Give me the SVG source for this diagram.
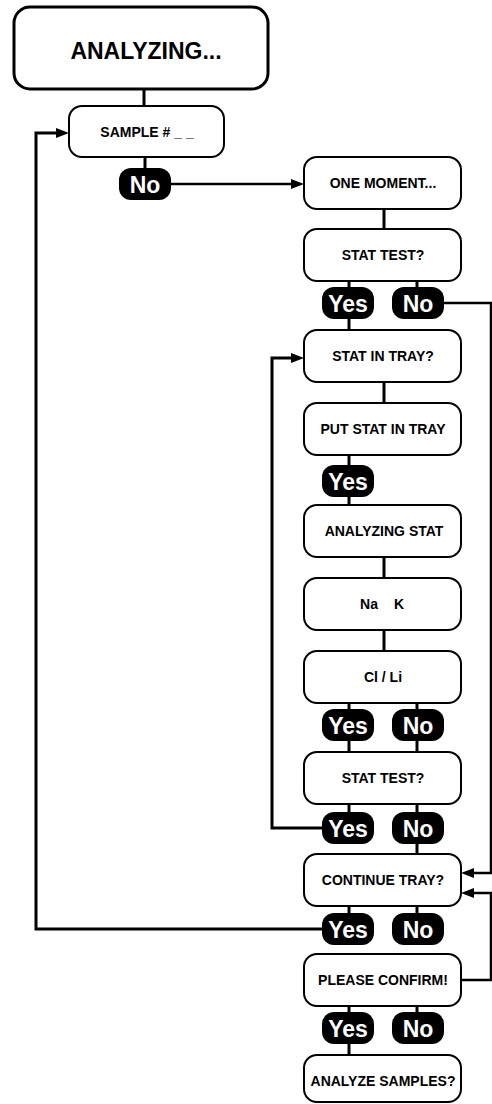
<svg xmlns="http://www.w3.org/2000/svg" width="492" height="1104" viewBox="0 0 492 1104">
<style>
.box{fill:#fff;stroke:#000;stroke-width:2}
.title{fill:#fff;stroke:#000;stroke-width:3}
.pill{fill:#000}
.t{font-family:"Liberation Sans",Arial,Helvetica,sans-serif;font-weight:bold;font-size:14px;text-anchor:middle;fill:#000}
.tt{font-size:23px}
.pt{font-family:"Liberation Sans",Arial,Helvetica,sans-serif;font-weight:bold;font-size:23px;text-anchor:middle;fill:#fff}
.c{stroke:#000;stroke-width:3;fill:none}
.cr{stroke:#000;stroke-width:2.5;fill:none}
.a{stroke:#000;stroke-width:2.5;fill:none;marker-end:url(#arr)}
</style>
<defs>
<marker id="arr" markerUnits="userSpaceOnUse" markerWidth="14" markerHeight="11" refX="0" refY="5" orient="auto">
<path d="M0,0 L13,5 L0,10 Z" fill="#000"/>
</marker>
</defs>
<rect width="492" height="1104" fill="#fff"/>
<g id="connectors">
<line class="c" x1="144" y1="89" x2="144" y2="106"/>
<line class="c" x1="145" y1="157" x2="145" y2="168"/>
<polyline class="a" points="171,184 291,184"/>
<line class="c" x1="384" y1="209" x2="384" y2="229"/>
<line class="c" x1="349" y1="281" x2="349" y2="287"/>
<line class="c" x1="417" y1="281" x2="417" y2="287"/>
<line class="c" x1="349" y1="319" x2="349" y2="330"/>
<polyline class="a" points="444,303 491,303 491,873 474,873"/>
<line class="c" x1="384" y1="382" x2="384" y2="403"/>
<line class="c" x1="349" y1="455" x2="349" y2="465"/>
<line class="c" x1="349" y1="497" x2="349" y2="505"/>
<line class="c" x1="384" y1="557" x2="384" y2="578"/>
<line class="c" x1="384" y1="630" x2="384" y2="651"/>
<line class="c" x1="349" y1="703" x2="349" y2="709"/>
<line class="c" x1="417" y1="703" x2="417" y2="709"/>
<line class="c" x1="349" y1="741" x2="349" y2="752"/>
<line class="c" x1="417" y1="741" x2="417" y2="752"/>
<line class="c" x1="349" y1="804" x2="349" y2="812"/>
<line class="c" x1="417" y1="804" x2="417" y2="812"/>
<polyline class="a" style="stroke-width:3" points="322,828 272,828 272,358 291,358"/>
<line class="c" x1="417" y1="844" x2="417" y2="854"/>
<line class="c" x1="349" y1="906" x2="349" y2="913"/>
<line class="c" x1="417" y1="906" x2="417" y2="913"/>
<polyline class="a" style="stroke-width:3" points="322,929 36,929 36,133 56,133"/>
<polyline class="a" points="461,980 491,980 491,893 474,893"/>
<line class="c" x1="349" y1="1006" x2="349" y2="1012"/>
<line class="c" x1="417" y1="1006" x2="417" y2="1012"/>
<line class="c" x1="349" y1="1044" x2="349" y2="1055"/>
</g>
<g id="analyzing">
<rect class="title" x="14" y="7" width="254" height="82" rx="16"/>
<text class="t tt" x="146" y="59">ANALYZING...</text>
</g>
<g id="sample">
<rect class="box" x="69" y="106" width="155" height="51" rx="13"/>
<text class="t" x="147" y="137">SAMPLE # _ _</text>
</g>
<g id="sample-no">
<rect class="pill" x="119" y="168" width="52" height="32" rx="12"/>
<text class="pt" x="145" y="193">No</text>
</g>
<g id="one-moment">
<rect class="box" x="304" y="157" width="157" height="52" rx="13"/>
<text class="t" x="383" y="188">ONE MOMENT...</text>
</g>
<g id="stat-test-1">
<rect class="box" x="304" y="229" width="157" height="52" rx="13"/>
<text class="t" x="383" y="260">STAT TEST?</text>
</g>
<g id="stat-test-1-yes">
<rect class="pill" x="322" y="287" width="52" height="32" rx="12"/>
<text class="pt" x="348" y="312">Yes</text>
</g>
<g id="stat-test-1-no">
<rect class="pill" x="392" y="287" width="52" height="32" rx="12"/>
<text class="pt" x="418" y="312">No</text>
</g>
<g id="stat-in-tray">
<rect class="box" x="304" y="330" width="157" height="52" rx="13"/>
<text class="t" x="383" y="361">STAT IN TRAY?</text>
</g>
<g id="put-stat">
<rect class="box" x="304" y="403" width="157" height="52" rx="13"/>
<text class="t" x="383" y="434">PUT STAT IN TRAY</text>
</g>
<g id="put-stat-yes">
<rect class="pill" x="322" y="465" width="52" height="32" rx="12"/>
<text class="pt" x="348" y="490">Yes</text>
</g>
<g id="analyzing-stat">
<rect class="box" x="304" y="505" width="157" height="52" rx="13"/>
<text class="t" x="384" y="536">ANALYZING STAT</text>
</g>
<g id="na-k">
<rect class="box" x="304" y="578" width="157" height="52" rx="13"/>
<text class="t" y="609"><tspan x="369">Na</tspan><tspan x="399">K</tspan></text>
</g>
<g id="cl-li">
<rect class="box" x="304" y="651" width="157" height="52" rx="13"/>
<text class="t" x="383" y="682">Cl / Li</text>
</g>
<g id="cl-li-yes">
<rect class="pill" x="322" y="709" width="52" height="32" rx="12"/>
<text class="pt" x="348" y="734">Yes</text>
</g>
<g id="cl-li-no">
<rect class="pill" x="392" y="709" width="52" height="32" rx="12"/>
<text class="pt" x="418" y="734">No</text>
</g>
<g id="stat-test-2">
<rect class="box" x="304" y="752" width="157" height="52" rx="13"/>
<text class="t" x="383" y="783">STAT TEST?</text>
</g>
<g id="stat-test-2-yes">
<rect class="pill" x="322" y="812" width="52" height="32" rx="12"/>
<text class="pt" x="348" y="837">Yes</text>
</g>
<g id="stat-test-2-no">
<rect class="pill" x="392" y="812" width="52" height="32" rx="12"/>
<text class="pt" x="418" y="837">No</text>
</g>
<g id="continue-tray">
<rect class="box" x="304" y="854" width="157" height="52" rx="13"/>
<text class="t" x="383" y="885">CONTINUE TRAY?</text>
</g>
<g id="continue-yes">
<rect class="pill" x="322" y="913" width="52" height="32" rx="12"/>
<text class="pt" x="348" y="938">Yes</text>
</g>
<g id="continue-no">
<rect class="pill" x="392" y="913" width="52" height="32" rx="12"/>
<text class="pt" x="418" y="938">No</text>
</g>
<g id="please-confirm">
<rect class="box" x="304" y="954" width="157" height="52" rx="13"/>
<text class="t" x="383" y="985">PLEASE CONFIRM!</text>
</g>
<g id="confirm-yes">
<rect class="pill" x="322" y="1012" width="52" height="32" rx="12"/>
<text class="pt" x="348" y="1037">Yes</text>
</g>
<g id="confirm-no">
<rect class="pill" x="392" y="1012" width="52" height="32" rx="12"/>
<text class="pt" x="418" y="1037">No</text>
</g>
<g id="analyze-samples">
<rect class="box" x="304" y="1055" width="157" height="47" rx="13"/>
<text class="t" x="383" y="1086">ANALYZE SAMPLES?</text>
</g>
</svg>
